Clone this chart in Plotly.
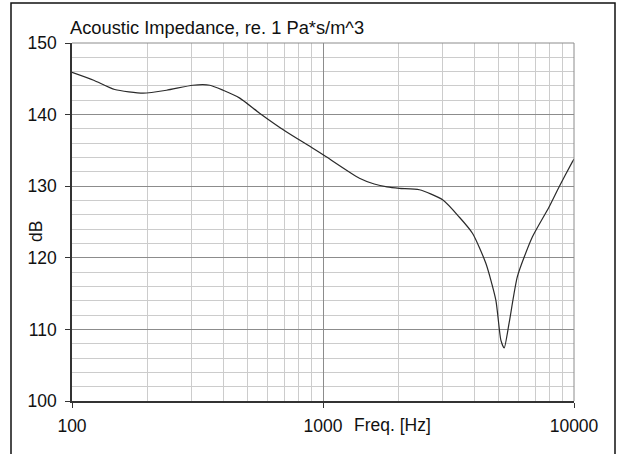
import plotly.graph_objects as go

freq_hz = [100, 122, 148, 192, 238, 303, 354, 400, 466, 559, 714, 911, 1030, 1397,
           1600, 1800, 2015, 2420, 2996, 3489, 3945, 4458, 4882, 5112, 5269, 5515,
           5952, 6823, 7955, 8718, 9850, 10000]
impedance_db = [145.9, 144.8, 143.5, 143.0, 143.4, 144.1, 144.1, 143.4, 142.3, 140.2,
                137.6, 135.3, 134.1, 131.1, 130.3, 129.9, 129.7, 129.5, 128.1, 125.7,
                123.4, 119.2, 114.1, 108.5, 107.4, 110.9, 117.4, 122.9, 127.1, 129.9,
                133.4, 133.8]
y_ticks = [100, 110, 120, 130, 140, 150]
x_ticks = [100, 1000, 10000]
x_tick_labels = ["100", "1000", "10000"]

W, H = 619, 454
L, R, T, B = 72, 574, 43, 401
pw, ph = R - L, B - T

def px(x):
    return (x - L) / pw

def py(y):
    return (B - y) / ph

fig = go.Figure()
fig.add_trace(go.Scatter(x=freq_hz, y=impedance_db, mode="lines",
                         line=dict(color="#2a2a2a", width=1.2, shape="spline", smoothing=0.6),
                         hoverinfo="skip", showlegend=False))

font = dict(family="Liberation Sans, Arial, sans-serif", size=17.5, color="#111")
title_font = dict(family="Liberation Sans, Arial, sans-serif", size=18.3, color="#111")

fig.update_layout(
    width=W, height=H, autosize=False,
    margin=dict(l=L, r=W - R, t=T, b=H - B),
    paper_bgcolor="white", plot_bgcolor="white",
    font=font,
    xaxis=dict(type="log", range=[2, 4], tickvals=x_ticks, ticktext=x_tick_labels,
               showgrid=True, gridcolor="#8c8c8c", gridwidth=1,
               minor=dict(dtick="D1", showgrid=True, gridcolor="#cccccc", gridwidth=1,
                          ticks=""),
               showline=True, linecolor="#333", linewidth=1.5,
               ticks="outside", ticklen=5, tickcolor="#333",
               ticklabelstandoff=3, zeroline=False),
    yaxis=dict(range=[100, 150], tickvals=y_ticks,
               showgrid=True, gridcolor="#8c8c8c", gridwidth=1,
               minor=dict(dtick=2, showgrid=True, gridcolor="#cccccc", gridwidth=1, ticks=""),
               showline=True, linecolor="#333", linewidth=1.5,
               ticks="outside", ticklen=5, tickcolor="#333",
               ticklabelstandoff=5, zeroline=False),
)

fig.add_annotation(text="Acoustic Impedance, re. 1 Pa*s/m^3", xref="paper", yref="paper",
                   x=px(68), y=py(27), xanchor="left", yanchor="middle",
                   showarrow=False, font=title_font)
fig.add_annotation(text="Freq. [Hz]", xref="paper", yref="paper",
                   x=px(392), y=py(425), xanchor="center", yanchor="middle",
                   showarrow=False, font=font)
fig.add_annotation(text="dB", xref="paper", yref="paper",
                   x=px(36), y=py(232), xanchor="center", yanchor="middle",
                   textangle=-90, showarrow=False, font=font)

# gray right and top frame of plot area
fig.add_shape(type="line", xref="paper", yref="paper", x0=1, x1=1, y0=0, y1=1,
              line=dict(color="#8c8c8c", width=1))
fig.add_shape(type="line", xref="paper", yref="paper", x0=0, x1=1, y0=1, y1=1,
              line=dict(color="#8c8c8c", width=1))
# outer black border
fig.add_shape(type="rect", xref="paper", yref="paper",
              x0=px(11), x1=px(615), y0=py(470), y1=py(3),
              line=dict(color="#111", width=1.5), layer="below")

fig.write_html("out.html", config=dict(displayModeBar=False),
               post_script="document.body.style.margin='0px';document.body.style.padding='0px';")
